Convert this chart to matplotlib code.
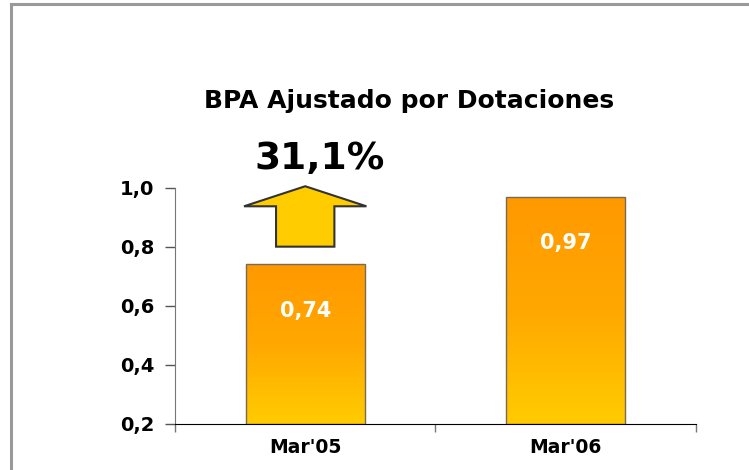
import matplotlib
matplotlib.use('Agg')
import matplotlib.pyplot as plt
import numpy as np
from matplotlib.colors import LinearSegmentedColormap
from matplotlib.patches import Polygon, Rectangle

# data
categories = ["Mar'05", "Mar'06"]
values = [0.74, 0.97]
value_labels = ['0,74', '0,97']
yticks = [0.2, 0.4, 0.6, 0.8, 1.0]
ytick_labels = ['0,2', '0,4', '0,6', '0,8', '1,0']
title = 'BPA Ajustado por Dotaciones'
growth_label = '31,1%'

plt.rcParams['font.family'] = ['DejaVu Sans']

fig = plt.figure(figsize=(7.49, 4.70), dpi=100)
ax = fig.add_axes([0.2336, 0.0989, 0.6956, 0.5017])

x = np.arange(len(categories))
bar_w = 0.457
ymin, ymax = 0.2, 1.0

# gradient fill: orange at top, yellow at bottom
cmap = LinearSegmentedColormap.from_list('bar', ['#FFCC00', '#FFA800', '#FF9900'])
grad = np.linspace(0, 1, 256).reshape(-1, 1)
bars = ax.bar(x, np.array(values) - ymin, bottom=ymin, width=bar_w,
              color='none', edgecolor='#7a6a50', linewidth=1.0, zorder=3)
for b in bars:
    x0, y0 = b.get_x(), b.get_y()
    w, h = b.get_width(), b.get_height()
    im = ax.imshow(grad, cmap=cmap, origin='lower', aspect='auto',
                   extent=[x0, x0 + w, y0, y0 + h], zorder=2)
    clip = Rectangle((x0, y0), w, h, transform=ax.transData)
    im.set_clip_path(clip)

for xi, v, lab in zip(x, values, value_labels):
    ax.text(xi, v - 0.158, lab, ha='center', va='center', color='white',
            fontsize=15, fontweight='bold', zorder=4)

ax.set_xlim(-0.5, 1.5)
ax.set_ylim(ymin, ymax)

# up arrow over first bar
ax0 = x[0]
arrow = Polygon([(ax0 - 0.112, 0.80), (ax0 - 0.112, 0.937), (ax0 - 0.235, 0.937),
                 (ax0, 1.005), (ax0 + 0.235, 0.937), (ax0 + 0.112, 0.937),
                 (ax0 + 0.112, 0.80)], closed=True, facecolor='#FFCC00',
                edgecolor='#333333', linewidth=1.5, clip_on=False, zorder=5)
ax.add_patch(arrow)

ax.set_yticks(yticks)
ax.set_yticklabels(ytick_labels, fontsize=14, fontweight='bold')
ax.set_xticks([-0.5, 0.5, 1.5])
ax.set_xticklabels([])
ax.tick_params(axis='y', length=7, width=1, color='#555555', pad=8)
ax.tick_params(axis='x', length=6, width=1, color='#777777', direction='out')
for xi, cat in zip(x, categories):
    ax.text(xi, -0.1, cat, transform=ax.get_xaxis_transform(), ha='center',
            va='center', fontsize=13.5, fontweight='bold')

for s in ['top', 'right']:
    ax.spines[s].set_visible(False)
ax.spines['left'].set_color('#777777')
ax.spines['bottom'].set_color('black')
ax.spines['bottom'].set_zorder(6)

fig.text(0.546, 0.785, title, ha='center', va='center', fontsize=18, fontweight='bold')
fig.text(0.427, 0.662, growth_label, ha='center', va='center', fontsize=27, fontweight='bold')

# outer frame (top and left edges)
fig.add_artist(plt.Line2D([11 / 749, 11 / 749], [0, 1 - 4 / 470], color='#999999', linewidth=2.2,
                          transform=fig.transFigure))
fig.add_artist(plt.Line2D([11 / 749, 1], [1 - 4 / 470, 1 - 4 / 470], color='#999999', linewidth=2.2,
                          transform=fig.transFigure))

fig.savefig('out.png', dpi=100)
